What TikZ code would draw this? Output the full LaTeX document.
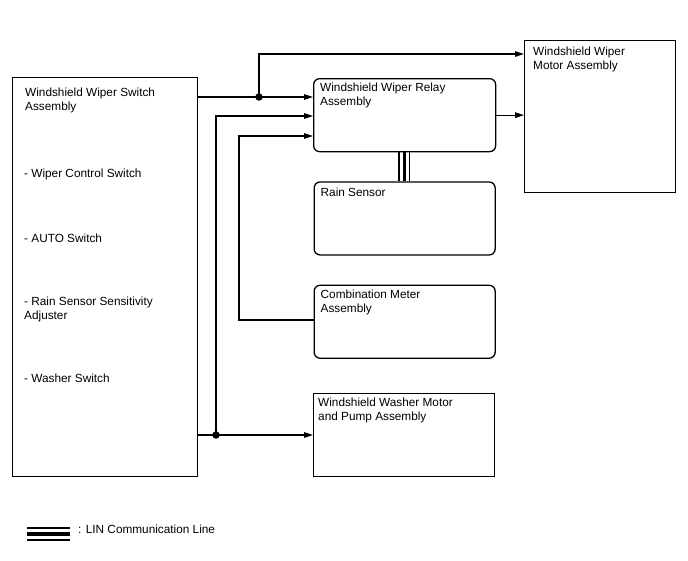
\documentclass[tikz,border=0pt]{standalone}
\usepackage{fontspec}
\setmainfont{Liberation Sans}
\usepackage{tikz}
\usetikzlibrary{arrows.meta, positioning}
\tikzset{
    unit/.style={rectangle, draw, line width=1.3pt, minimum width=181pt, minimum height=73pt, anchor=north west, rounded corners=6pt, inner sep=0pt},
    squnit/.style={unit, rounded corners=0pt},
    caption/.style={font=\fontsize{11.8}{14}\selectfont, align=left, anchor=north west, inner sep=0pt},
    wire/.style={line width=1.3pt},
    sig/.style={wire, -{Triangle[length=9pt, width=5.5pt]}},
    junc/.style={circle, fill, inner sep=0pt, minimum size=7.5pt},
    linthin/.style={line width=1.6pt},
    linthick/.style={line width=3.4pt},
}

\begin{document}
\begin{tikzpicture}[x=1pt, y=-1pt]
    \useasboundingbox (0,0) rectangle (688,560);

    % units
    \node[squnit, minimum width=185pt, minimum height=399pt] (switch) at (12,77) {};
    \node[unit, minimum width=182pt] (relay) at (313,78) {};
    \node[unit, below=29pt of relay] (rain) {};
    \node[unit, below=29pt of rain] (meter) {};
    \node[squnit, minimum height=83pt] (washer) at (313,393) {};
    \node[squnit, minimum width=151pt, minimum height=152pt] (motor) at (524,40) {};

    % texts
    \node[caption] (switch-txt) at ([shift={(13pt,-11pt)}]switch.north west) {Windshield Wiper Switch\\Assembly};
    \node[caption] (item-a) at (24,169) {- Wiper Control Switch};
    \node[caption] (item-b) at (24,234) {- AUTO Switch};
    \node[caption] (item-c) at (24,297) {- Rain Sensor Sensitivity\\Adjuster};
    \node[caption] (item-d) at (24,374) {- Washer Switch};
    \node[caption] (relay-txt) at ([shift={(7pt,-5pt)}]relay.north west) {Windshield Wiper Relay\\Assembly};
    \node[caption] (rain-txt) at ([shift={(7pt,-6pt)}]rain.north west) {Rain Sensor};
    \node[caption] (meter-txt) at ([shift={(7pt,-5pt)}]meter.north west) {Combination Meter\\Assembly};
    \node[caption] (washer-txt) at ([shift={(5pt,-5pt)}]washer.north west) {Windshield Washer Motor\\and Pump Assembly};
    \node[caption] (motor-txt) at ([shift={(9pt,-7pt)}]motor.north west) {Windshield Wiper\\Motor Assembly};

    % junctions and bends
    \node[junc] (dotA) at (259,97) {};
    \node[junc] (dotB) at (216,435) {};
    \coordinate (topbus) at (259,54);
    \coordinate (bendB) at (216,116);
    \coordinate (bendC) at (239,136);
    \coordinate (bendD) at (239,320);

    % signal lines
    \draw[sig] (switch.east |- dotA) -- (relay.west |- dotA);
    \draw[sig] (dotA.center) -- (topbus) -- (motor.west |- topbus);
    \draw[sig] (switch.east |- dotB) -- (washer.west |- dotB);
    \draw[sig] (dotB.center) -- (bendB) -- (relay.west |- bendB);
    \draw[sig] (meter.west |- bendD) -- (bendD) -- (bendC) -- (relay.west |- bendC);
    \draw[sig] (relay.east) -- (relay.east -| motor.west);

    % LIN
    \draw[linthin] ([xshift=-5.5pt]relay.south) -- ([xshift=-5.5pt]rain.north);
    \draw[linthick] (relay.south) -- (rain.north);
    \draw[linthin] ([xshift=5pt]relay.south) -- ([xshift=5pt]rain.north);

    % legend
    \coordinate (leg-l) at (27,534);
    \coordinate (leg-r) at (70,534);
    \draw[linthin] ([yshift=6pt]leg-l) -- ([yshift=6pt]leg-r);
    \draw[linthick] (leg-l) -- (leg-r);
    \draw[linthin] ([yshift=-6pt]leg-l) -- ([yshift=-6pt]leg-r);
    \node[caption] (leg-txt) at (78,525) {: LIN Communication Line};
\end{tikzpicture}
\end{document}
